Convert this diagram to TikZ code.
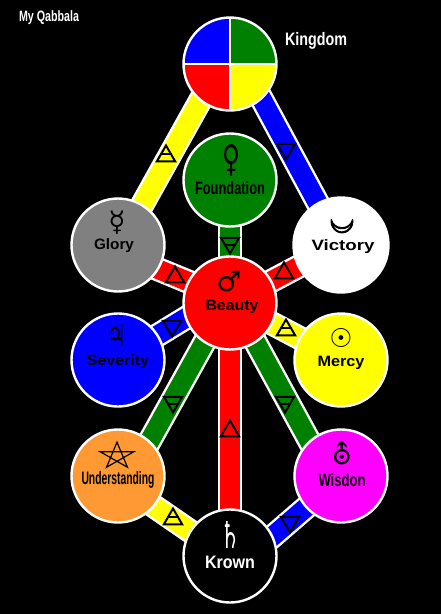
\documentclass[tikz,border=0pt]{standalone}
\usepackage{fontspec}
\setmainfont{Liberation Sans}
\newfontfamily\symfont{DejaVu Sans Bold}
\newfontfamily\moonfont[FakeBold=3]{DejaVu Sans Bold}
\usetikzlibrary{positioning,shapes.geometric,backgrounds,calc}

\definecolor{sgreen}{RGB}{0,128,0}
\definecolor{sgray}{RGB}{128,128,128}
\definecolor{sorange}{RGB}{255,153,51}
\definecolor{smagenta}{RGB}{255,0,255}
\definecolor{sblue}{RGB}{0,0,255}
\definecolor{sred}{RGB}{255,0,0}
\definecolor{syellow}{RGB}{255,255,0}

\newcommand{\lbl}[2]{\resizebox{#1pt}{\height}{\bfseries #2}}

\begin{document}
\begin{tikzpicture}[
    x=1pt, y=-1pt,
    sph/.style={circle, draw=white, line width=2.4pt, minimum size=93pt, inner sep=0pt},
    band/.style={line width=2.4pt, draw=white, double distance=19.5pt, line cap=butt,
                 shorten <=-6pt, shorten >=-6pt},
    tri/.style={regular polygon, regular polygon sides=3, draw=black, line width=2pt,
                minimum size=21pt, inner sep=0pt},
    up/.style={tri},
    dn/.style={tri, shape border rotate=180},
    tribar/.style={draw=black, line width=1.6pt},
    sym/.style={font=\symfont\fontsize{28}{28}\selectfont, inner sep=0pt},
    txt/.style={font=\fontsize{15}{15}\selectfont, inner sep=0pt},
    tall/.style={font=\fontsize{18}{18}\selectfont, inner sep=0pt},
  ]
  \useasboundingbox (0,0) rectangle (441,614);

  % ===== spheres =====
  \node[sph, path picture={
      \fill[sblue] (path picture bounding box.north west) rectangle (path picture bounding box.center);
      \fill[sgreen] (path picture bounding box.north east) rectangle (path picture bounding box.center);
      \fill[sred] (path picture bounding box.south west) rectangle (path picture bounding box.center);
      \fill[syellow] (path picture bounding box.south east) rectangle (path picture bounding box.center);
      \draw[white, line width=2.4pt] (path picture bounding box.north) -- (path picture bounding box.south)
        (path picture bounding box.west) -- (path picture bounding box.east);
    }] (kingdom) at (230,64) {};
  \node[sph, fill=sgreen] (foundation) at (230,180) {};
  \node[sph, fill=sgray] (glory) at (118,245) {};
  \node[sph, fill=white, minimum size=95pt] (victory) at (341,245) {};
  \node[sph, fill=sred] (beauty) at (230,303) {};
  \node[sph, fill=sblue] (severity) at (118,360) {};
  \node[sph, fill=syellow] (mercy) at (341,360) {};
  \node[sph, fill=sorange] (understanding) at (118,476) {};
  \node[sph, fill=smagenta] (wisdom) at (341,476) {};
  \node[sph, fill=black] (krown) at (230,556) {};

  % ===== paths =====
  \begin{scope}[on background layer]
    \fill[black] (0,0) rectangle (441,614);
    \draw[band, double=syellow] (kingdom.231) -- (glory.59);
    \draw[band, double=sblue] (kingdom.312) -- (victory.119);
    \draw[band, double=sgreen] (foundation) -- (beauty);
    \draw[band, double=sred] (glory.-31) -- (beauty.153);
    \draw[band, double=sred] (victory.207) -- (beauty.28);
    \draw[band, double=sblue] (severity.32) -- (beauty.199);
    \draw[band, double=syellow] (mercy.152) -- (beauty.334);
    \draw[band, double=sgreen] (understanding.48) -- (beauty.237);
    \draw[band, double=sgreen] (wisdom.132) -- (beauty.303);
    \draw[band, double=sred] (krown) -- (beauty);
    \draw[band, double=syellow] (understanding.320) -- (krown.148);
    \draw[band, double=sblue] (wisdom.222) -- (krown.25);
  \end{scope}

  % ===== elements on the paths =====
  \node[up] (t1) at (166,156) {};
  \node[dn] (t2) at (286,149) {};
  \node[dn] (t3) at (230,243) {};
  \node[up] (t4) at (175,277) {};
  \node[up] (t5) at (284,273) {};
  \node[dn] (t6) at (172,326) {};
  \node[up] (t7) at (286,330) {};
  \node[dn] (t8) at (173,402) {};
  \node[dn] (t9) at (285,402) {};
  \node[up] (t10) at (230,431) {};
  \node[up] (t11) at (173,519) {};
  \node[dn] (t12) at (290,522) {};
  \foreach \t in {t1,t3,t7,t8,t9,t11}
    \draw[tribar] ($(\t.corner 1)!.55!(\t.corner 2)$) -- ($(\t.corner 1)!.55!(\t.corner 3)$);

  % ===== planets =====
  \node[sym] (sfoundation) at (231,160) {\resizebox{18pt}{27pt}{♀}};
  \node[sym] (sglory) at (117,223) {☿};
  \node[sym, rotate=-90, font=\moonfont\fontsize{30}{30}\selectfont] (svictory) at (342,222) {☽};
  \node[sym] (sbeauty) at (229,282) {♂};
  \node[sym] (sseverity) at (117,335) {\resizebox{19pt}{23pt}{♃}};
  \node[sym, font=\symfont\fontsize{26}{26}\selectfont] (smercy) at (341,338) {☉};
  \begin{scope}[shift={(117,456)}, yscale=.78, transform shape]
    \node[regular polygon, regular polygon sides=5, minimum size=35pt, inner sep=0pt] (sunderstanding) at (0,0) {};
    \draw[black, line width=1.2pt] (sunderstanding.corner 1) -- (sunderstanding.corner 3)
      -- (sunderstanding.corner 5) -- (sunderstanding.corner 2) -- (sunderstanding.corner 4) -- cycle;
  \end{scope}
  \node[sym] (swisdom) at (342,453) {⛢};
  \node[sym, white] (skrown) at (230,535) {\resizebox{20pt}{27pt}{♄}};

  % ===== names =====
  \node[txt, white] (title) at (49,18) {\lbl{60}{My Qabbala}};
  \node[tall, white] (lkingdom) at (316,41) {\lbl{62}{Kingdom}};
  \node[tall] (lfoundation) at (230,188) {\lbl{70}{Foundation}};
  \node[txt] (lglory) at (114,246) {\lbl{40}{Glory}};
  \node[txt] (lvictory) at (343,247) {\lbl{63}{Victory}};
  \node[txt] (lbeauty) at (232,307) {\lbl{53}{Beauty}};
  \node[txt] (lseverity) at (118,362) {\lbl{62}{Severity}};
  \node[txt] (lmercy) at (341,363) {\lbl{47}{Mercy}};
  \node[tall] (lunderstanding) at (118,480) {\lbl{73}{Understanding}};
  \node[tall] (lwisdom) at (342,480) {\lbl{47}{Wisdon}};
  \node[tall, white] (lkrown) at (230,562) {\lbl{50}{Krown}};
\end{tikzpicture}
\end{document}
